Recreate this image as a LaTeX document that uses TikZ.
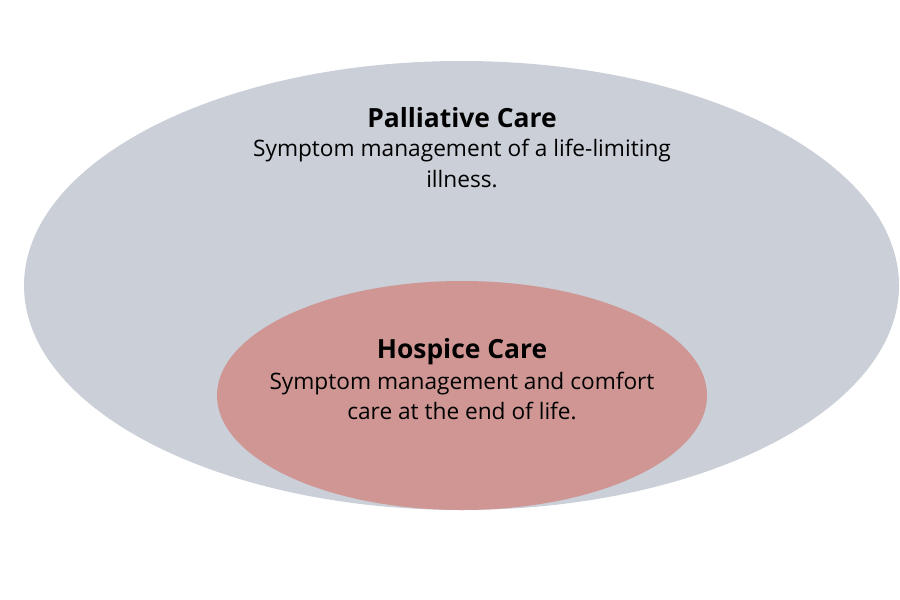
\documentclass[tikz,border=0pt]{standalone}
\usepackage{fontspec}
\setmainfont{Open Sans}
\usepackage{tikz}

\definecolor{pallgray}{HTML}{CACFD8}
\definecolor{hospred}{HTML}{CF9694}

\tikzset{
  cardtitle/.style={font=\bfseries\fontsize{19.8}{24}\selectfont, inner sep=0pt, anchor=base},
  cardtext/.style={font=\fontsize{17}{21}\selectfont, inner sep=0pt, anchor=base}
}

\begin{document}
\begin{tikzpicture}[x=0.75pt, y=-0.75pt]
        \useasboundingbox (0,0) rectangle (900,600);
        % outer and inner area
        \fill[pallgray] (461.5,285.5) ellipse [x radius=437.5, y radius=224.5];
        \fill[hospred] (462,395.5) ellipse [x radius=245, y radius=114.5];
        % palliative care
        \node[cardtitle] (pall) at (462,127) {Palliative Care};
        \node[cardtext] (pall1) at (462,156) {Symptom management of a life-limiting};
        \node[cardtext] (pall2) at (462,187) {illness.};
        % hospice care
        \node[cardtitle] (hosp) at (462,358) {Hospice Care};
        \node[cardtext] (hosp1) at (462,389) {Symptom management and comfort};
        \node[cardtext] (hosp2) at (462,419) {care at the end of life.};
\end{tikzpicture}
\end{document}
